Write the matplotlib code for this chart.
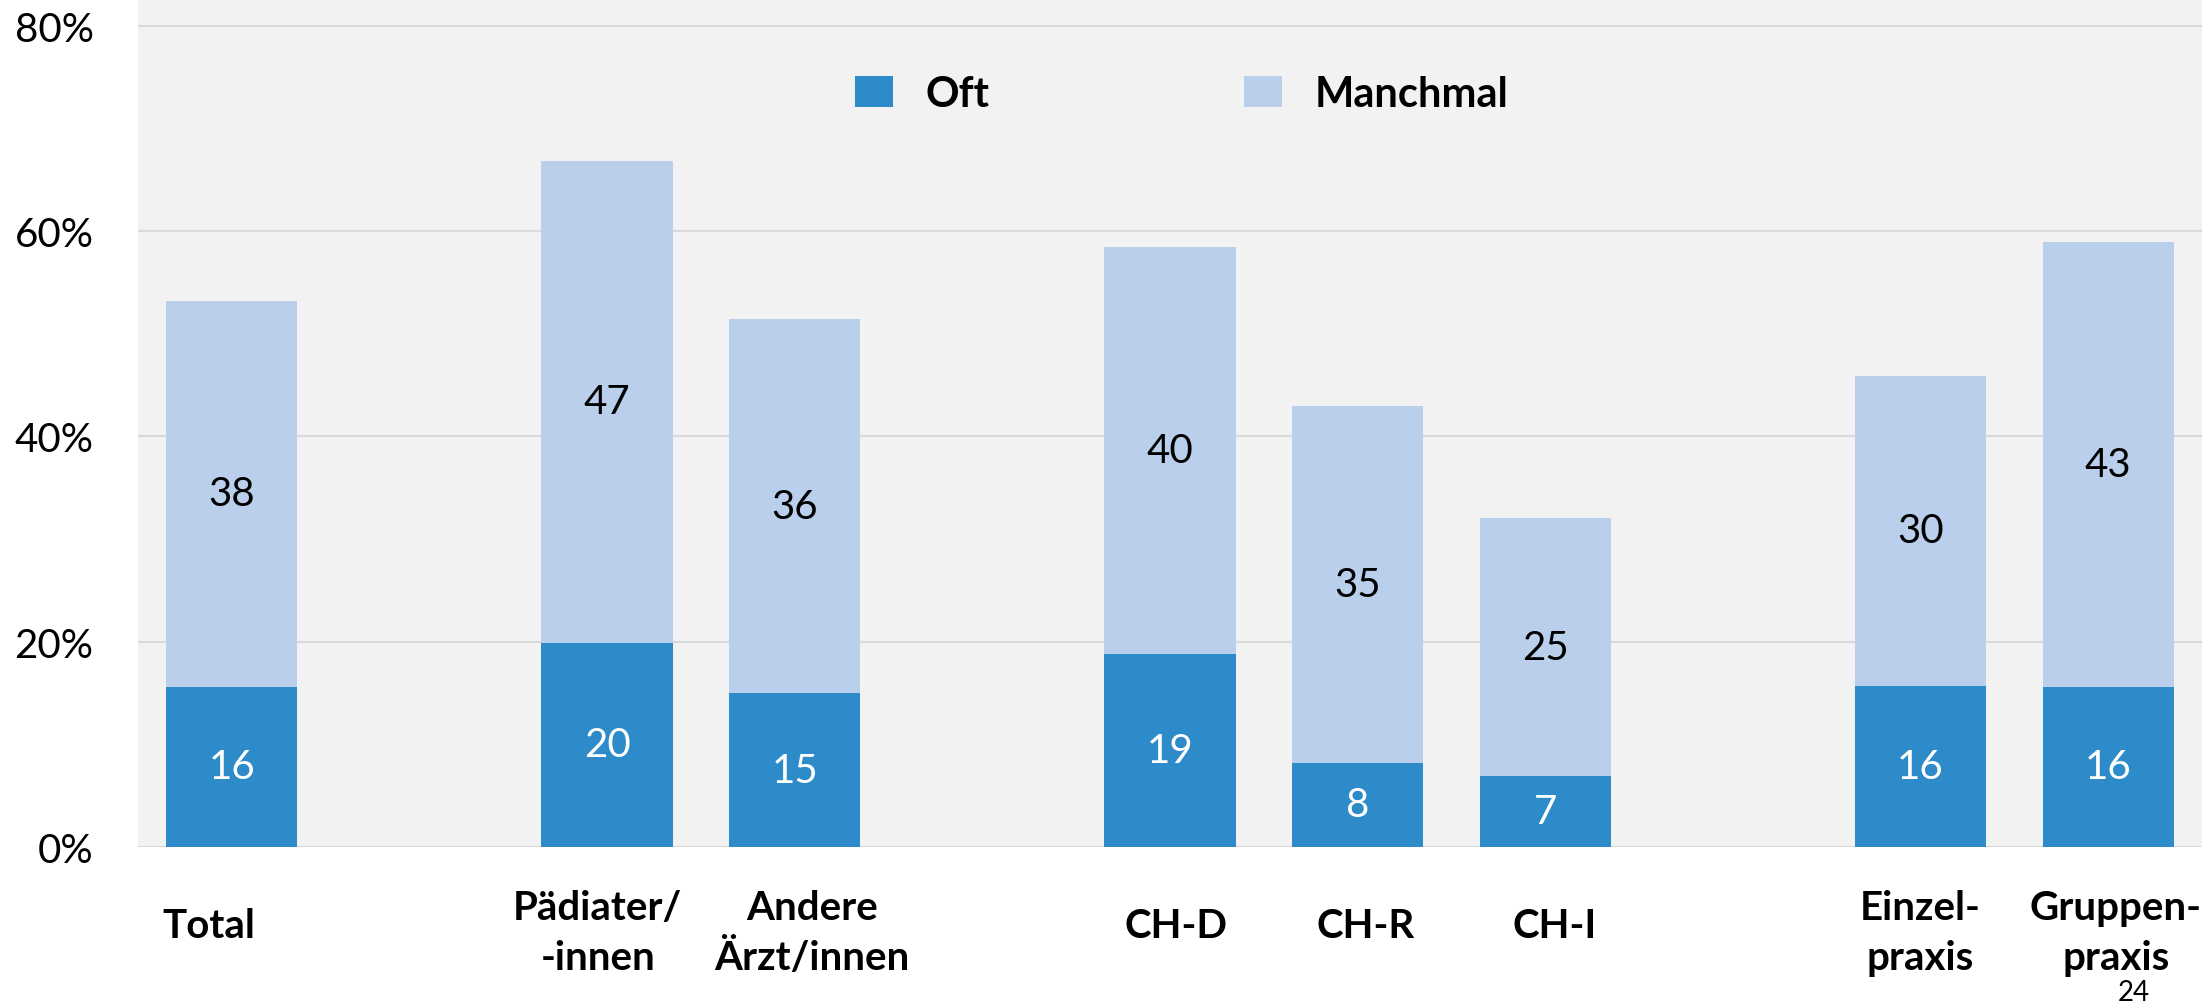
import matplotlib.pyplot as plt
import numpy as np

plt.rcParams['font.family'] = ['Lato', 'DejaVu Sans']

categories = ["Total", "Pädiater/\n-innen", "Andere\nÄrzt/innen", "CH-D", "CH-R", "CH-I",
              "Einzel-\npraxis", "Gruppen-\npraxis"]
oft = [15.6, 19.9, 15.0, 18.8, 8.2, 6.9, 15.7, 15.6]
manchmal = [37.6, 46.9, 36.4, 39.6, 34.8, 25.1, 30.2, 43.3]
series_names = ["Oft", "Manchmal"]
yticks = [0, 20, 40, 60, 80]
page_no = "24"

# layout: slot of each bar (gaps between groups) and small shift of the text boxes
slots = [0, 2, 3, 5, 6, 7, 9, 10]
label_dx = [-0.12, -0.05, 0.09, 0.03, 0.04, 0.05, 0.0, 0.04]

c_oft = "#2C8BC8"
c_man = "#B9CFEB"

W, H = 2208, 1003
fig = plt.figure(figsize=(W / 100, H / 100), dpi=100)
ax = fig.add_axes([138 / W, 1 - 848 / H, 2064 / W, 848 / H])
ax.set_facecolor("#F2F2F2")

x = np.array(slots, dtype=float)
b1 = ax.bar(x, oft, width=0.70, color=c_oft, zorder=3, label=series_names[0])
b2 = ax.bar(x, manchmal, width=0.70, bottom=oft, color=c_man, zorder=3, label=series_names[1])

fs = 29
for xi, o, m in zip(x, oft, manchmal):
    ax.text(xi, o / 2, f"{o:.0f}", ha="center", va="center", color="white", fontsize=fs, zorder=4)
    ax.text(xi, o + m / 2, f"{m:.0f}", ha="center", va="center", color="black", fontsize=fs, zorder=4)

ax.set_xlim(-0.5, 10.5)
ax.set_ylim(0, 82.6)
ax.set_yticks(yticks)
ax.set_yticklabels([f"{t}%" for t in yticks], fontsize=fs)
ax.set_xticks([])
ax.tick_params(axis="y", length=0, pad=32)
ax.grid(axis="y", color="#D9D9D9", linewidth=1.5, zorder=0)
for s in ax.spines.values():
    s.set_visible(False)

# category labels below the plot area
tr = ax.get_xaxis_transform()
for xi, dx, lab in zip(x, label_dx, categories):
    lines = lab.split("\n")
    if len(lines) == 1:
        ys = [938]
    else:
        ys = [920, 970]
    for ln, ypx in zip(lines, ys):
        ax.text(xi + dx, (848 - ypx) / 848, ln, transform=tr, ha="center", va="baseline",
                fontsize=fs, fontweight="bold", clip_on=False)

ax.legend(handles=[b1, b2], loc="center left", bbox_to_anchor=((855 - 138) / 2064, (848 - 95) / 848),
          ncol=2, frameon=False, prop={"size": 30, "weight": "bold"},
          handlelength=0.9, handleheight=0.8, handletextpad=0.8, columnspacing=6.1,
          borderpad=0, borderaxespad=0)

fig.text(2134 / W, (H - 1001) / H, page_no, ha="center", va="baseline", fontsize=20)

fig.savefig("out.png", dpi=100)
